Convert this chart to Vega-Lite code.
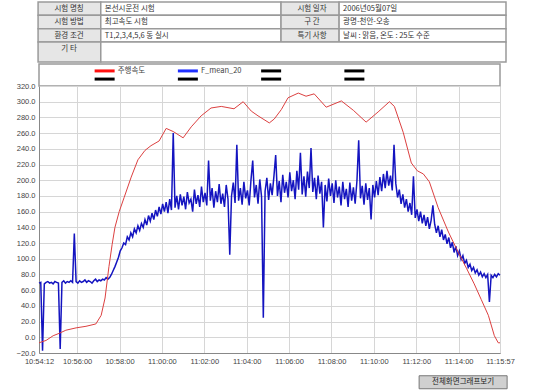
{
  "$schema": "https://vega.github.io/schema/vega-lite/v6.json",
  "padding": 0,
  "background": "white",
  "spacing": 0,
  "bounds": "flush",
  "config": {"font": "Noto Sans CJK KR", "view": {"stroke": null}, "axis": {"labelFont": "Liberation Sans", "labelOverlap": false, "labelSeparation": 0}},
  "datasets": {
    "header": [
      {"r0": 0, "r1": 1, "c0": -0.2, "c1": 13.4, "kind": "label", "text": "시험 명칭"},
      {"r0": 0, "r1": 1, "c0": 13.4, "c1": 52.5, "kind": "value", "text": "본선시운전 시험"},
      {"r0": 0, "r1": 1, "c0": 52.5, "c1": 65.1, "kind": "label", "text": "시험 일자"},
      {"r0": 0, "r1": 1, "c0": 65.1, "c1": 101.3, "kind": "value", "text": "2006년05월07일"},
      {"r0": 1, "r1": 2, "c0": -0.2, "c1": 13.4, "kind": "label", "text": "시험 방법"},
      {"r0": 1, "r1": 2, "c0": 13.4, "c1": 52.5, "kind": "value", "text": "최고속도 시험"},
      {"r0": 1, "r1": 2, "c0": 52.5, "c1": 65.1, "kind": "label", "text": "구    간"},
      {"r0": 1, "r1": 2, "c0": 65.1, "c1": 101.3, "kind": "value", "text": "광명-천안-오송"},
      {"r0": 2, "r1": 3, "c0": -0.2, "c1": 13.4, "kind": "label", "text": "환경 조건"},
      {"r0": 2, "r1": 3, "c0": 13.4, "c1": 52.5, "kind": "value", "text": "T1,2,3,4,5,6 동 실시"},
      {"r0": 2, "r1": 3, "c0": 52.5, "c1": 65.1, "kind": "label", "text": "특기 사항"},
      {"r0": 2, "r1": 3, "c0": 65.1, "c1": 101.3, "kind": "value", "text": "날씨 : 맑음, 온도 : 25도 수준"},
      {"r0": 3, "r1": 4.5, "c0": -0.2, "c1": 13.4, "kind": "label", "text": "기    타"},
      {"r0": 3, "r1": 4.5, "c0": 13.4, "c1": 101.3, "kind": "value", "text": ""}
    ],
    "legend": [
      {"slot": 1, "row": 1, "series": "주행속도", "label": "주행속도"},
      {"slot": 2, "row": 1, "series": "F_mean_20", "label": "F_mean_20"},
      {"slot": 3, "row": 1, "series": "미지정", "label": ""},
      {"slot": 4, "row": 1, "series": "미지정", "label": ""},
      {"slot": 1, "row": 2, "series": "미지정", "label": ""},
      {"slot": 2, "row": 2, "series": "미지정", "label": ""},
      {"slot": 3, "row": 2, "series": "미지정", "label": ""},
      {"slot": 4, "row": 2, "series": "미지정", "label": ""}
    ],
    "speed": [
      {"t": 0, "v": -7}, {"t": 20, "v": -4}, {"t": 40, "v": 2}, {"t": 57, "v": 5}, {"t": 76, "v": 9},
      {"t": 105, "v": 12}, {"t": 133, "v": 14}, {"t": 161, "v": 17}, {"t": 176, "v": 28}, {"t": 187, "v": 50},
      {"t": 198, "v": 90}, {"t": 207, "v": 118}, {"t": 215, "v": 140}, {"t": 227, "v": 160}, {"t": 241, "v": 178},
      {"t": 261, "v": 204}, {"t": 280, "v": 226}, {"t": 300, "v": 238}, {"t": 317, "v": 244}, {"t": 340, "v": 250},
      {"t": 360, "v": 266}, {"t": 380, "v": 262}, {"t": 408, "v": 254}, {"t": 431, "v": 268}, {"t": 459, "v": 282},
      {"t": 487, "v": 292}, {"t": 516, "v": 294}, {"t": 552, "v": 291}, {"t": 578, "v": 300}, {"t": 601, "v": 288},
      {"t": 620, "v": 282}, {"t": 652, "v": 273}, {"t": 666, "v": 278}, {"t": 686, "v": 290}, {"t": 705, "v": 305},
      {"t": 734, "v": 311}, {"t": 756, "v": 307}, {"t": 779, "v": 310}, {"t": 813, "v": 293}, {"t": 856, "v": 301},
      {"t": 890, "v": 289}, {"t": 926, "v": 274}, {"t": 960, "v": 287}, {"t": 992, "v": 300}, {"t": 1006, "v": 294},
      {"t": 1031, "v": 261}, {"t": 1054, "v": 222}, {"t": 1071, "v": 212}, {"t": 1088, "v": 208}, {"t": 1105, "v": 198},
      {"t": 1130, "v": 165}, {"t": 1159, "v": 134}, {"t": 1187, "v": 108}, {"t": 1210, "v": 88}, {"t": 1232, "v": 68},
      {"t": 1252, "v": 48}, {"t": 1272, "v": 28}, {"t": 1289, "v": 2}, {"t": 1300, "v": -7}, {"t": 1305, "v": -7}
    ],
    "force": [
      {"t": 0, "v": 69}, {"t": 5, "v": 70}, {"t": 10, "v": -17}, {"t": 15, "v": 68}, {"t": 20, "v": 70},
      {"t": 25, "v": 71}, {"t": 30, "v": 69}, {"t": 35, "v": 70}, {"t": 40, "v": 68}, {"t": 45, "v": 71},
      {"t": 50, "v": 70}, {"t": 55, "v": 69}, {"t": 60, "v": -15}, {"t": 65, "v": 70}, {"t": 70, "v": 72},
      {"t": 75, "v": 69}, {"t": 80, "v": 71}, {"t": 85, "v": 70}, {"t": 90, "v": 72}, {"t": 95, "v": 70},
      {"t": 100, "v": 132}, {"t": 105, "v": 71}, {"t": 110, "v": 69}, {"t": 115, "v": 72}, {"t": 120, "v": 70},
      {"t": 125, "v": 71}, {"t": 130, "v": 73}, {"t": 135, "v": 70}, {"t": 140, "v": 72}, {"t": 145, "v": 71},
      {"t": 150, "v": 69}, {"t": 155, "v": 72}, {"t": 160, "v": 74}, {"t": 165, "v": 71}, {"t": 170, "v": 73},
      {"t": 175, "v": 72}, {"t": 180, "v": 74}, {"t": 185, "v": 73}, {"t": 190, "v": 76}, {"t": 195, "v": 74},
      {"t": 200, "v": 76}, {"t": 205, "v": 80}, {"t": 210, "v": 85}, {"t": 215, "v": 90}, {"t": 220, "v": 96},
      {"t": 225, "v": 102}, {"t": 230, "v": 110}, {"t": 235, "v": 114}, {"t": 240, "v": 120}, {"t": 245, "v": 118},
      {"t": 250, "v": 128}, {"t": 255, "v": 124}, {"t": 260, "v": 133}, {"t": 265, "v": 128}, {"t": 270, "v": 138},
      {"t": 275, "v": 133}, {"t": 280, "v": 142}, {"t": 285, "v": 136}, {"t": 290, "v": 145}, {"t": 295, "v": 140},
      {"t": 300, "v": 150}, {"t": 305, "v": 143}, {"t": 310, "v": 155}, {"t": 315, "v": 148}, {"t": 320, "v": 158},
      {"t": 325, "v": 150}, {"t": 330, "v": 162}, {"t": 335, "v": 154}, {"t": 340, "v": 166}, {"t": 345, "v": 157},
      {"t": 350, "v": 170}, {"t": 355, "v": 160}, {"t": 360, "v": 172}, {"t": 365, "v": 158}, {"t": 370, "v": 176},
      {"t": 375, "v": 162}, {"t": 380, "v": 260}, {"t": 385, "v": 165}, {"t": 390, "v": 180}, {"t": 395, "v": 163},
      {"t": 400, "v": 182}, {"t": 405, "v": 168}, {"t": 410, "v": 179}, {"t": 415, "v": 163}, {"t": 420, "v": 185},
      {"t": 425, "v": 171}, {"t": 430, "v": 176}, {"t": 435, "v": 160}, {"t": 440, "v": 188}, {"t": 445, "v": 170},
      {"t": 450, "v": 181}, {"t": 455, "v": 166}, {"t": 460, "v": 192}, {"t": 465, "v": 172}, {"t": 470, "v": 184},
      {"t": 475, "v": 168}, {"t": 480, "v": 225}, {"t": 485, "v": 174}, {"t": 490, "v": 190}, {"t": 495, "v": 165},
      {"t": 500, "v": 186}, {"t": 505, "v": 172}, {"t": 510, "v": 195}, {"t": 515, "v": 170}, {"t": 520, "v": 183},
      {"t": 525, "v": 166}, {"t": 530, "v": 194}, {"t": 535, "v": 176}, {"t": 540, "v": 105}, {"t": 545, "v": 180},
      {"t": 550, "v": 197}, {"t": 555, "v": 171}, {"t": 560, "v": 245}, {"t": 565, "v": 174}, {"t": 570, "v": 190},
      {"t": 575, "v": 169}, {"t": 580, "v": 198}, {"t": 585, "v": 177}, {"t": 590, "v": 187}, {"t": 595, "v": 168},
      {"t": 600, "v": 200}, {"t": 605, "v": 225}, {"t": 610, "v": 178}, {"t": 615, "v": 194}, {"t": 620, "v": 170},
      {"t": 625, "v": 201}, {"t": 630, "v": 179}, {"t": 635, "v": 25}, {"t": 640, "v": 186}, {"t": 645, "v": 203},
      {"t": 650, "v": 175}, {"t": 655, "v": 196}, {"t": 660, "v": 181}, {"t": 665, "v": 205}, {"t": 670, "v": 232},
      {"t": 675, "v": 180}, {"t": 680, "v": 199}, {"t": 685, "v": 172}, {"t": 690, "v": 207}, {"t": 695, "v": 184},
      {"t": 700, "v": 198}, {"t": 705, "v": 178}, {"t": 710, "v": 210}, {"t": 715, "v": 186}, {"t": 720, "v": 200},
      {"t": 725, "v": 176}, {"t": 730, "v": 212}, {"t": 735, "v": 188}, {"t": 740, "v": 235}, {"t": 745, "v": 182},
      {"t": 750, "v": 205}, {"t": 755, "v": 179}, {"t": 760, "v": 211}, {"t": 765, "v": 190}, {"t": 770, "v": 241},
      {"t": 775, "v": 185}, {"t": 780, "v": 203}, {"t": 785, "v": 176}, {"t": 790, "v": 206}, {"t": 795, "v": 183},
      {"t": 800, "v": 198}, {"t": 805, "v": 140}, {"t": 810, "v": 194}, {"t": 815, "v": 173}, {"t": 820, "v": 202},
      {"t": 825, "v": 180}, {"t": 830, "v": 196}, {"t": 835, "v": 171}, {"t": 840, "v": 200}, {"t": 845, "v": 178},
      {"t": 850, "v": 192}, {"t": 855, "v": 168}, {"t": 860, "v": 198}, {"t": 865, "v": 176}, {"t": 870, "v": 189},
      {"t": 875, "v": 166}, {"t": 880, "v": 197}, {"t": 885, "v": 174}, {"t": 890, "v": 191}, {"t": 895, "v": 170},
      {"t": 900, "v": 199}, {"t": 905, "v": 251}, {"t": 910, "v": 177}, {"t": 915, "v": 193}, {"t": 920, "v": 169},
      {"t": 925, "v": 196}, {"t": 930, "v": 175}, {"t": 935, "v": 190}, {"t": 940, "v": 150}, {"t": 945, "v": 194},
      {"t": 950, "v": 178}, {"t": 955, "v": 199}, {"t": 960, "v": 181}, {"t": 965, "v": 204}, {"t": 970, "v": 186},
      {"t": 975, "v": 208}, {"t": 980, "v": 190}, {"t": 985, "v": 212}, {"t": 990, "v": 193}, {"t": 995, "v": 206},
      {"t": 1000, "v": 187}, {"t": 1005, "v": 245}, {"t": 1010, "v": 196}, {"t": 1015, "v": 178}, {"t": 1020, "v": 188},
      {"t": 1025, "v": 170}, {"t": 1030, "v": 182}, {"t": 1035, "v": 165}, {"t": 1040, "v": 176}, {"t": 1045, "v": 160},
      {"t": 1050, "v": 171}, {"t": 1055, "v": 156}, {"t": 1060, "v": 205}, {"t": 1065, "v": 152}, {"t": 1070, "v": 163},
      {"t": 1075, "v": 148}, {"t": 1080, "v": 160}, {"t": 1085, "v": 145}, {"t": 1090, "v": 156}, {"t": 1095, "v": 142},
      {"t": 1100, "v": 153}, {"t": 1105, "v": 138}, {"t": 1110, "v": 149}, {"t": 1115, "v": 168}, {"t": 1120, "v": 144},
      {"t": 1125, "v": 133}, {"t": 1130, "v": 142}, {"t": 1135, "v": 128}, {"t": 1140, "v": 137}, {"t": 1145, "v": 124},
      {"t": 1150, "v": 131}, {"t": 1155, "v": 119}, {"t": 1160, "v": 127}, {"t": 1165, "v": 114}, {"t": 1170, "v": 121},
      {"t": 1175, "v": 108}, {"t": 1180, "v": 116}, {"t": 1185, "v": 104}, {"t": 1190, "v": 110}, {"t": 1195, "v": 99},
      {"t": 1200, "v": 104}, {"t": 1205, "v": 94}, {"t": 1210, "v": 98}, {"t": 1215, "v": 89}, {"t": 1220, "v": 93},
      {"t": 1225, "v": 85}, {"t": 1230, "v": 89}, {"t": 1235, "v": 82}, {"t": 1240, "v": 86}, {"t": 1245, "v": 79},
      {"t": 1250, "v": 83}, {"t": 1255, "v": 77}, {"t": 1260, "v": 81}, {"t": 1265, "v": 76}, {"t": 1270, "v": 80},
      {"t": 1275, "v": 45}, {"t": 1280, "v": 79}, {"t": 1285, "v": 76}, {"t": 1290, "v": 80}, {"t": 1295, "v": 77},
      {"t": 1300, "v": 81}, {"t": 1305, "v": 79}
    ]
  },
  "vconcat": [
    {
      "width": 461,
      "height": 64,
      "data": {"name": "header"},
      "layer": [
        {
          "mark": {"type": "rect", "stroke": "#9a9a9a", "strokeWidth": 1.5},
          "encoding": {
            "x": {"field": "c0", "type": "quantitative", "scale": {"domain": [0, 100], "nice": false, "zero": false}, "axis": null},
            "x2": {"field": "c1"},
            "y": {"field": "r0", "type": "quantitative", "scale": {"domain": [-0.15, 4.65], "reverse": true, "nice": false, "zero": false}, "axis": null},
            "y2": {"field": "r1"},
            "fill": {"field": "kind", "type": "nominal", "scale": {"domain": ["label", "value"], "range": ["#e6e6e6", "#ffffff"]}, "legend": null}
          }
        },
        {
          "transform": [{"filter": "datum.kind == 'label'"}],
          "mark": {"type": "text", "dx": 31, "dy": 7, "align": "center", "baseline": "middle", "fontSize": 7.5, "color": "#333333"},
          "encoding": {
            "x": {"field": "c0", "type": "quantitative"},
            "y": {"field": "r0", "type": "quantitative"},
            "text": {"field": "text"}
          }
        },
        {
          "transform": [{"filter": "datum.kind == 'value'"}],
          "mark": {"type": "text", "dx": 4, "dy": 7, "align": "left", "baseline": "middle", "fontSize": 7.5, "color": "#333333"},
          "encoding": {
            "x": {"field": "c0", "type": "quantitative"},
            "y": {"field": "r0", "type": "quantitative"},
            "text": {"field": "text"}
          }
        }
      ]
    },
    {
      "width": 461,
      "height": 22,
      "view": {"stroke": "#999999", "strokeWidth": 1.5},
      "data": {"name": "legend"},
      "layer": [
        {
          "mark": {"type": "rect", "width": 20, "height": 3},
          "encoding": {
            "x": {"field": "slot", "type": "ordinal", "scale": {"type": "point", "range": [24, 357]}, "axis": null},
            "y": {"field": "row", "type": "ordinal", "scale": {"type": "point", "padding": 0.85}, "axis": null},
            "color": {"field": "series", "type": "nominal", "scale": {"domain": ["주행속도", "F_mean_20", "미지정"], "range": ["#ff1010", "#2030ff", "#000000"]}, "legend": null}
          }
        },
        {
          "mark": {"type": "text", "dx": 13, "align": "left", "baseline": "middle", "fontSize": 7.5, "color": "#444444"},
          "encoding": {
            "x": {"field": "slot", "type": "ordinal"},
            "y": {"field": "row", "type": "ordinal"},
            "text": {"field": "label"}
          }
        }
      ]
    },
    {
      "width": 461,
      "height": 267,
      "view": {"stroke": "#888888", "strokeWidth": 1},
      "encoding": {
        "x": {
          "field": "t", "type": "quantitative",
          "scale": {"domain": [0, 1305], "nice": false, "zero": false},
          "axis": {
            "values": [0, 108, 228, 348, 468, 588, 708, 828, 948, 1068, 1188, 1305],
            "labelExpr": "timeFormat(datetime(2006, 4, 7, 10, 54, 12 + datum.value), '%H:%M:%S')",
            "title": null, "ticks": false, "labelFontSize": 7.5, "labelColor": "#444444",
            "gridColor": "#d6d6d6", "domainColor": "#888888", "labelPadding": 4,
            "labelFlush": false, "labelOverlap": false
          }
        },
        "y": {
          "field": "v", "type": "quantitative",
          "scale": {"domain": [-20, 320], "nice": false, "zero": false},
          "axis": {
            "values": [-20, 0, 20, 40, 60, 80, 100, 120, 140, 160, 180, 200, 220, 240, 260, 280, 300, 320],
            "format": ".1f", "title": null, "ticks": false, "labelFontSize": 7.5, "labelColor": "#444444",
            "gridColor": "#d6d6d6", "domainColor": "#888888", "labelPadding": 4,
            "labelOverlap": false, "labelFlush": false, "labelSeparation": 0,
            "minExtent": 38, "maxExtent": 38
          }
        }
      },
      "layer": [
        {
          "data": {"name": "force"},
          "mark": {"type": "line", "color": "#1414c0", "strokeWidth": 1.5}
        },
        {
          "data": {"name": "speed"},
          "mark": {"type": "line", "color": "#dc4040", "strokeWidth": 1}
        }
      ]
    },
    {
      "width": 461,
      "height": 39,
      "data": {"values": [{"label": "전체화면그래프보기"}]},
      "layer": [
        {
          "mark": {"type": "rect", "width": 88, "height": 13, "fill": "#d0d0d0", "stroke": "#777777", "strokeWidth": 1},
          "encoding": {
            "x": {"datum": 92, "type": "quantitative", "scale": {"domain": [0, 100], "nice": false, "zero": false}, "axis": null},
            "y": {"datum": 0.25, "type": "quantitative", "scale": {"domain": [0, 1], "nice": false, "zero": false}, "axis": null}
          }
        },
        {
          "mark": {"type": "text", "fontSize": 7.5, "color": "#222222", "baseline": "middle"},
          "encoding": {
            "x": {"datum": 92, "type": "quantitative"},
            "y": {"datum": 0.25, "type": "quantitative"},
            "text": {"field": "label"}
          }
        }
      ]
    }
  ]
}
